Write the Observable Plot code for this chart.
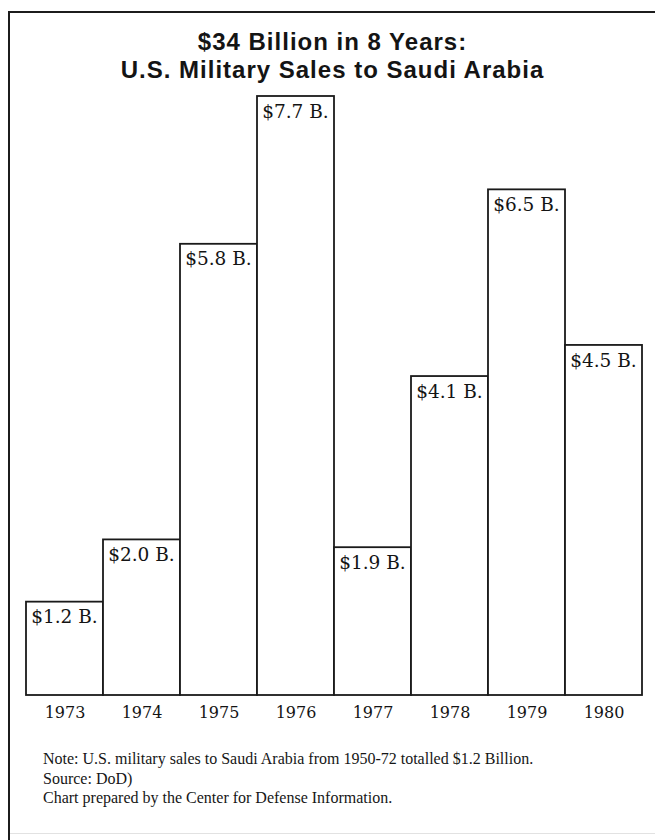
<!DOCTYPE html>
<html>
<head>
<meta charset="utf-8">
<script src="https://cdn.jsdelivr.net/npm/d3@7"></script>
<script src="https://cdn.jsdelivr.net/npm/@observablehq/plot@0.6"></script>
<style>
  html, body { margin: 0; padding: 0; background: #ffffff; }
  #page { position: relative; width: 655px; height: 840px; overflow: hidden; background: #ffffff; }
  #frame { position: absolute; left: 8px; top: 11px; width: 700px; height: 900px;
           border-top: 2px solid #1c1c1c; border-left: 2px solid #1c1c1c; }
  #bottomline { position: absolute; left: 10px; top: 833px; width: 645px; height: 1px; background: #e2e2e2; }
  #title { position: absolute; left: 5px; top: 28px; width: 655px; text-align: center;
           font-family: "Liberation Sans", Arial, sans-serif; font-weight: bold; font-size: 24px;
           line-height: 28px; letter-spacing: 1px; color: #141414; }
  #chart { position: absolute; left: 0; top: 90px; }
  #notes { position: absolute; left: 43px; top: 749px; font-family: "Liberation Serif", "Times New Roman", serif;
           font-size: 16px; line-height: 19.5px; color: #161616; white-space: nowrap; }
</style>
</head>
<body>
<div id="page">
  <div id="frame"></div>
  <div id="bottomline"></div>
  <div id="title">$34 Billion in 8 Years:<br>U.S. Military Sales to Saudi Arabia</div>
  <div id="chart"></div>
  <div id="notes">
    <div>Note: U.S. military sales to Saudi Arabia from 1950-72 totalled $1.2 Billion.</div>
    <div>Source: DoD)</div>
    <div>Chart prepared by the Center for Defense Information.</div>
  </div>
</div>
<script>
// Data
const years = ["1973", "1974", "1975", "1976", "1977", "1978", "1979", "1980"];
const sales = [1.2, 2.0, 5.8, 7.7, 1.9, 4.1, 6.5, 4.5]; // billions of dollars
const labels = ["$1.2 B.", "$2.0 B.", "$5.8 B.", "$7.7 B.", "$1.9 B.", "$4.1 B.", "$6.5 B.", "$4.5 B."];

const data = years.map((y, i) => ({year: y, value: sales[i], label: labels[i]}));

const W = 655, H = 635, ML = 23, MR = 10, MT = 6, MB = 30;
const bw = (W - ML - MR) / years.length;

const chart = Plot.plot({
  width: W,
  height: H,
  marginLeft: ML,
  marginRight: MR,
  marginTop: MT,
  marginBottom: MB,
  x: {domain: years, padding: 0},
  y: {domain: [0, 7.7], axis: null},
  style: {background: "transparent", color: "#141414", overflow: "visible"},
  marks: [
    Plot.barY(data, {x: "year", y: "value", fill: "white", stroke: "#1a1a1a", strokeWidth: 1.8, inset: 0}),
    Plot.text(data, {
      x: "year", y: "value", text: "label",
      textAnchor: "start", lineAnchor: "top",
      dx: -bw / 2 + 5, dy: 8,
      fontSize: 18.5, fontFamily: "DejaVu Serif", fill: "#141414"
    }),
    Plot.axisX({tickSize: 0, tickPadding: 11, fontSize: 16, fontFamily: "DejaVu Serif", label: null, fill: "#141414"})
  ]
});
document.getElementById("chart").appendChild(chart);
</script>
</body>
</html>
